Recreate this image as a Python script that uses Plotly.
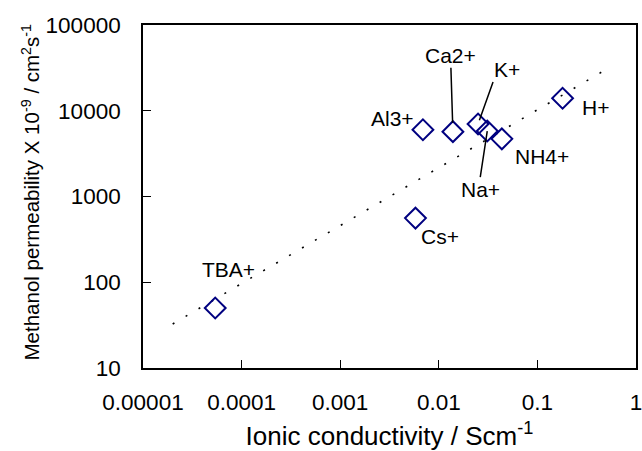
import numpy as np
import plotly.graph_objects as go

# ---- data ----
ions = ["TBA+", "Cs+", "Al3+", "Ca2+", "K+", "Na+", "NH4+", "H+"]
conductivity = [5.4e-5, 0.0058, 0.0069, 0.0139, 0.025, 0.031, 0.0436, 0.18]
permeability = [50, 560, 6000, 5700, 7000, 5800, 4700, 14000]

trend_x = [2.0e-5, 0.49]
trend_y = [32.6, 30000]

x_tickvals = [1e-5, 1e-4, 1e-3, 1e-2, 1e-1, 1]
x_ticktext = ["0.00001", "0.0001", "0.001", "0.01", "0.1", "1"]
y_tickvals = [10, 100, 1000, 10000, 100000]
y_ticktext = ["10", "100", "1000", "10000", "100000"]

x_title = "Ionic conductivity / Scm<sup>-1</sup>"
y_title = "Methanol permeability X 10<sup>-9</sup> / cm<sup>2</sup>s<sup>-1</sup>"

# ---- label placement (pixel offsets, style only) ----
plain_labels = {  # ion: (xshift, yshift)
    "TBA+": (13, 39),
    "Cs+": (25, -18),
    "Al3+": (-30, 11),
    "H+": (33, -9),
    "NH4+": (40, -18),
}
leader_labels = {  # ion: (ax, ay, xanchor, yanchor, standoff)
    "Ca2+": (-2, -64, "center", "bottom", 9),
    "K+": (15, -42, "left", "bottom", 4),
    "Na+": (-7, 46, "center", "top", 0),
}

FONT = "Liberation Sans, Arial, sans-serif"

fig = go.Figure()
fig.add_trace(go.Scatter(
    x=trend_x, y=trend_y, mode="lines",
    line=dict(color="black", width=1.6, dash="2px,13px"),
    hoverinfo="skip", showlegend=False,
))
fig.add_trace(go.Scatter(
    x=conductivity, y=permeability, mode="markers",
    marker=dict(symbol="diamond-open", size=16, color="#000080",
                line=dict(width=2, color="#000080")),
    text=ions, showlegend=False,
))

# annotations on log axes take log10 positions
for name, xv, yv in zip(ions, conductivity, permeability):
    lx, ly = float(np.log10(xv)), float(np.log10(yv))
    if name in plain_labels:
        xs, ys = plain_labels[name]
        fig.add_annotation(x=lx, y=ly, xref="x", yref="y", text=name,
                           showarrow=False, xshift=xs, yshift=ys,
                           font=dict(family=FONT, size=21, color="black"))
    elif name in leader_labels:
        ax, ay, xa, ya, so = leader_labels[name]
        fig.add_annotation(x=lx, y=ly, xref="x", yref="y", text=name,
                           showarrow=True, arrowhead=0, arrowwidth=1.5,
                           arrowcolor="black", ax=ax, ay=ay, standoff=so,
                           xanchor=xa, yanchor=ya, borderpad=0,
                           font=dict(family=FONT, size=21, color="black"))

# y-axis title as a rotated paper annotation
fig.add_annotation(xref="paper", yref="paper", x=0, y=0.5, xshift=-113, yshift=4,
                   xanchor="center", yanchor="middle",
                   text=y_title, textangle=-90, showarrow=False,
                   font=dict(family=FONT, size=20.5, color="black"))

fig.update_layout(
    width=642, height=451,
    margin=dict(l=143, r=6, t=25, b=83, autoexpand=False),
    paper_bgcolor="white", plot_bgcolor="white",
    font=dict(family=FONT, color="black"),
    showlegend=False,
)
fig.update_xaxes(
    type="log", range=[-5, 0], automargin=False,
    tickvals=x_tickvals, ticktext=x_ticktext, ticklabeloverflow="allow",
    ticks="inside", ticklen=8, tickwidth=1.2, tickcolor="black",
    showline=True, linecolor="black", linewidth=1.6, mirror=True,
    showgrid=False, zeroline=False,
    tickfont=dict(family=FONT, size=22.5, color="black"),
    ticklabelstandoff=13,
    title=dict(text=x_title,
               font=dict(family=FONT, size=26, color="black"), standoff=24),
)
fig.update_yaxes(
    type="log", range=[1, 5], automargin=False,
    tickvals=y_tickvals, ticktext=y_ticktext, ticklabeloverflow="allow",
    ticks="inside", ticklen=8, tickwidth=1.2, tickcolor="black",
    showline=True, linecolor="black", linewidth=1.6, mirror=True,
    showgrid=False, zeroline=False,
    tickfont=dict(family=FONT, size=22.5, color="black"),
    ticklabelstandoff=16,
)

# remove the default 8px page margin so the figure sits at the window origin
fig.write_html("out.html", config={"displayModeBar": False},
               post_script="document.body.style.margin='0';document.body.style.overflow='hidden';")
